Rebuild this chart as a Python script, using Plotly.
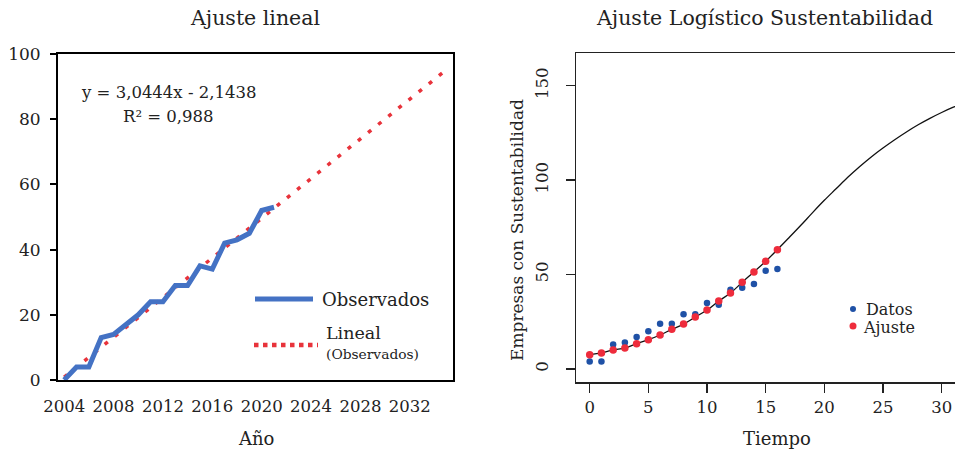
import plotly.graph_objects as go

# ---------------- data ----------------
years = list(range(2004, 2022))
observados = [0, 4, 4, 13, 14, 17, 20, 24, 24, 29, 29, 35, 34, 42, 43, 45, 52, 53]
trend_years = [2004, 2035]
trend_values = [0.9, 95.3]
left_xticks = [2004, 2008, 2012, 2016, 2020, 2024, 2028, 2032]
left_yticks = [0, 20, 40, 60, 80, 100]

tiempo = list(range(0, 17))
datos = [4, 4, 13, 14, 17, 20, 24, 24, 29, 29, 35, 34, 42, 43, 45, 52, 53]
ajuste = [7.6, 8.5, 10.1, 11.1, 13.4, 15.5, 18.0, 21.0, 23.8, 27.5, 31.2,
          36.0, 40.2, 45.9, 51.4, 57.0, 63.2]
curva_t = list(range(0, 33))
curva = [7.6, 8.5, 10.1, 11.1, 13.4, 15.5, 18.0, 21.0, 23.8, 27.5, 31.2,
         36.0, 40.2, 45.9, 51.4, 57.0, 63.2, 69.6, 76.1, 82.8, 89.3, 95.4,
         101.5, 107.1, 112.3, 117.0, 121.4, 125.5, 129.3, 132.7, 135.8,
         138.6, 141.0]
right_xticks = [0, 5, 10, 15, 20, 25, 30]
right_yticks = [0, 50, 100, 150]

# ---------------- styling ----------------
W, H = 955, 451
FONT = "DejaVu Serif"
TXT = "#222222"
BLUE_LINE = "#4472C4"
RED_DOT = "#E8333B"
BLUE_PT = "#1F51A6"
RED_PT = "#EE2C3C"


def px(x):
    return x / W


def py(y):
    return 1 - y / H


fig = go.Figure()

# left chart
fig.add_trace(go.Scatter(x=trend_years, y=trend_values, mode="lines",
                         line=dict(color=RED_DOT, width=3.5, dash="4px,9px"),
                         xaxis="x", yaxis="y", showlegend=False, hoverinfo="skip"))
fig.add_trace(go.Scatter(x=years, y=observados, mode="lines",
                         line=dict(color=BLUE_LINE, width=5),
                         xaxis="x", yaxis="y", showlegend=False))

# right chart
fig.add_trace(go.Scatter(x=curva_t, y=curva, mode="lines", line_shape="spline",
                         line=dict(color="#111111", width=1.3),
                         xaxis="x2", yaxis="y2", showlegend=False))
fig.add_trace(go.Scatter(x=tiempo, y=datos, mode="markers",
                         marker=dict(color=BLUE_PT, size=6.5),
                         xaxis="x2", yaxis="y2", showlegend=False))
fig.add_trace(go.Scatter(x=tiempo, y=ajuste, mode="markers",
                         marker=dict(color=RED_PT, size=7.5),
                         xaxis="x2", yaxis="y2", showlegend=False))

fig.update_layout(
    template="none",
    width=W, height=H, margin=dict(l=0, r=0, t=0, b=0, autoexpand=False),
    paper_bgcolor="white", plot_bgcolor="white",
    font=dict(family=FONT, color=TXT, size=16),
    xaxis=dict(domain=[px(58), px(453)], range=[2003.5, 2035.5], automargin=False,
               tickvals=left_xticks, ticks="", showgrid=False, zeroline=False,
               showline=True, linecolor="black", linewidth=2, mirror=True,
               tickfont=dict(size=16.5), ticklabelstandoff=10),
    yaxis=dict(domain=[py(380), py(54)], range=[0, 100], tickvals=left_yticks,
               automargin=False,
               ticks="outside", ticklen=6, tickwidth=2, tickcolor="black",
               showgrid=False, zeroline=False, showline=True, linecolor="black",
               linewidth=2, mirror=True, tickfont=dict(size=17),
               ticklabelstandoff=6),
    xaxis2=dict(domain=[px(576), 1.0], range=[-1.168, 31.14], anchor="y2",
                automargin=False,
                tickvals=right_xticks, ticks="outside", ticklen=9, tickwidth=1.3,
                tickcolor="#222", showgrid=False, zeroline=False, showline=True,
                linecolor="#222", linewidth=1.5, mirror=True,
                tickfont=dict(size=16.5), ticklabelstandoff=1),
    yaxis2=dict(domain=[py(382), py(53)], range=[-6.88, 167.3], anchor="x2",
                automargin=False,
                tickvals=right_yticks, ticks="outside", ticklen=9, tickwidth=1.3,
                tickcolor="#222", showgrid=False, zeroline=False, showline=True,
                linecolor="#222", linewidth=1.5, tickangle=-90,
                tickfont=dict(size=16.5), ticklabelstandoff=11),
)

ann = []


def add_text(text, x, y, size, xanchor="center", angle=0):
    ann.append(dict(text=text, x=px(x), y=py(y), xref="paper", yref="paper",
                    xanchor=xanchor, yanchor="middle", showarrow=False,
                    textangle=angle, font=dict(family=FONT, size=size, color=TXT)))


add_text("Ajuste lineal", 255, 18, 20.5)
add_text("Ajuste Logístico Sustentabilidad", 764, 18, 20.5)
add_text("Año", 256, 438, 18)
add_text("Tiempo", 777, 438, 18)
add_text("Empresas con Sustentabilidad", 517, 230, 17, angle=-90)
add_text("y = 3,0444x - 2,1438", 168, 92, 16.5)
add_text("R² = 0,988", 168, 116, 16.5)
add_text("Observados", 320, 299, 18, xanchor="left")
add_text("Lineal", 324, 333, 17.5, xanchor="left")
add_text("(Observados)", 324, 354, 13.8, xanchor="left")
add_text("Datos", 864, 309, 16, xanchor="left")
add_text("Ajuste", 861, 327, 16, xanchor="left")
fig.update_layout(annotations=ann)

shapes = [
    dict(type="line", xref="paper", yref="paper", x0=px(255), x1=px(313),
         y0=py(299), y1=py(299), line=dict(color=BLUE_LINE, width=5)),
    dict(type="line", xref="paper", yref="paper", x0=px(254), x1=px(318),
         y0=py(345), y1=py(345), line=dict(color=RED_DOT, width=4.5, dash="4.5px,4.5px")),
    dict(type="circle", xref="paper", yref="paper", xsizemode="pixel",
         ysizemode="pixel", xanchor=px(853), yanchor=py(309), x0=-3, x1=3,
         y0=-3, y1=3, fillcolor=BLUE_PT, line=dict(width=0)),
    dict(type="circle", xref="paper", yref="paper", xsizemode="pixel",
         ysizemode="pixel", xanchor=px(853), yanchor=py(326), x0=-3.5, x1=3.5,
         y0=-3.5, y1=3.5, fillcolor=RED_PT, line=dict(width=0)),
]
fig.update_layout(shapes=shapes)

fig.write_html(
    "out.html",
    config={"displayModeBar": False, "staticPlot": True},
    post_script="document.body.style.margin='0';document.body.style.padding='0';"
                "document.body.style.overflow='hidden';",
)
